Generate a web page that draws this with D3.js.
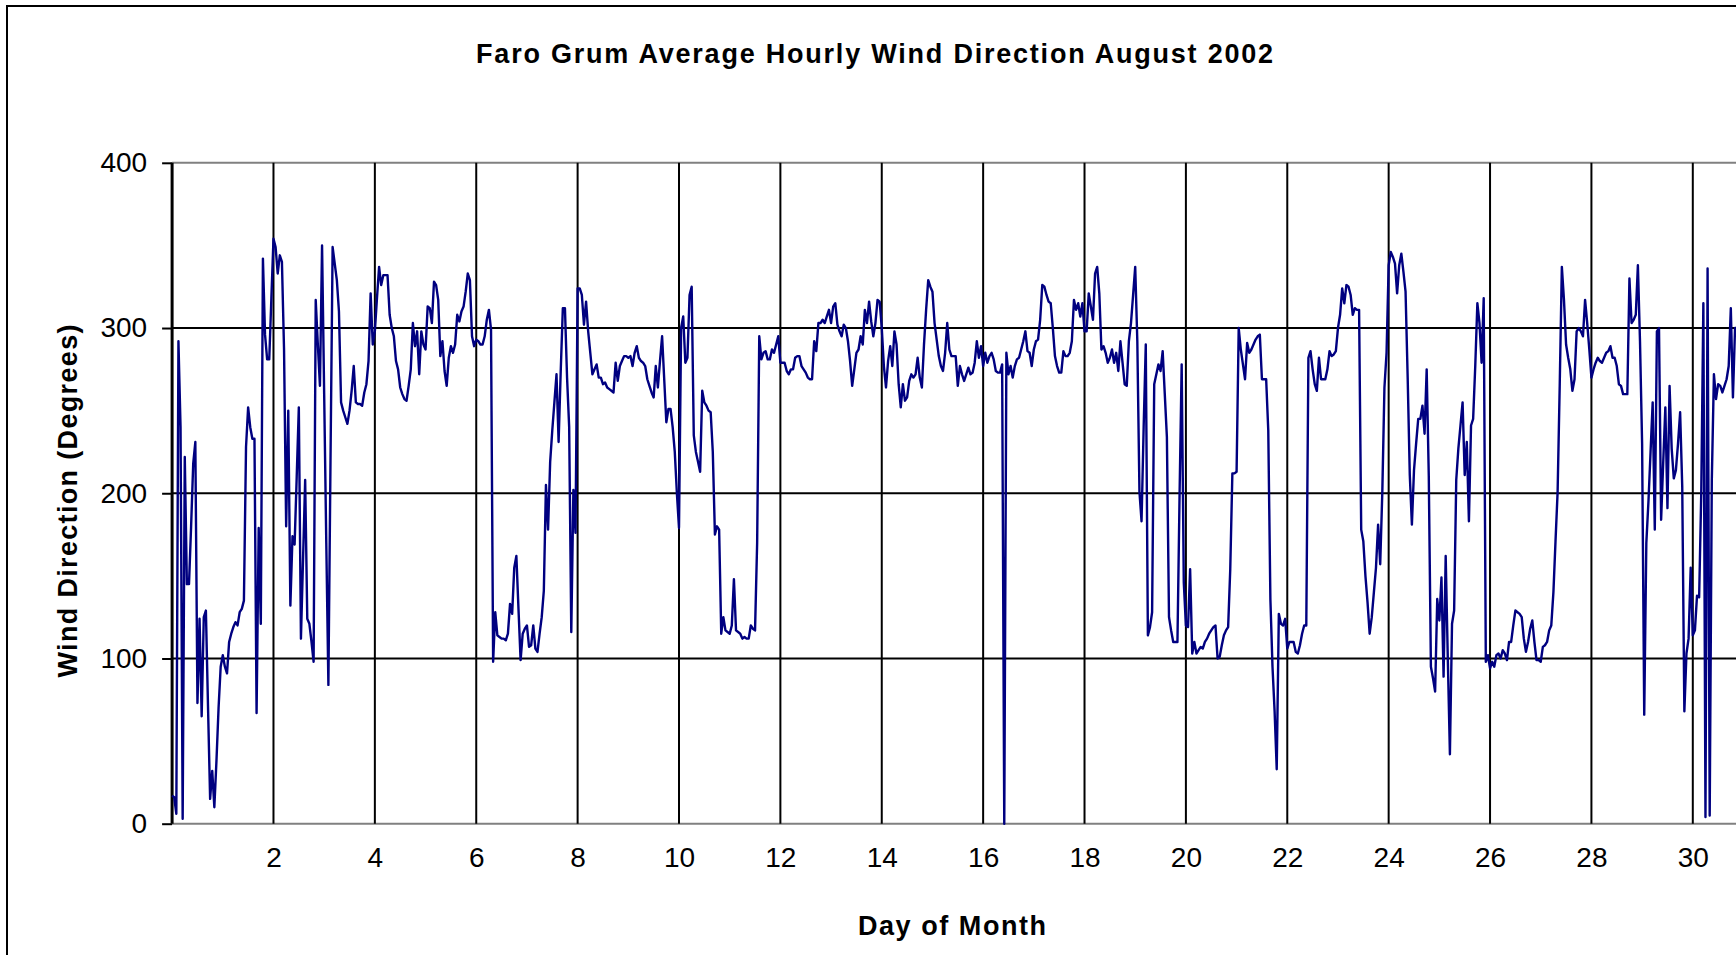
<!DOCTYPE html>
<html lang="en">
<head>
<meta charset="UTF-8">
<title>Faro Grum Average Hourly Wind Direction August 2002</title>
<script src="https://d3js.org/d3.v7.min.js"></script>
<style>
  body { margin: 0; background: #fff; overflow: hidden; }
  svg { display: block; }
  .tick text { font-family: Arial, "Liberation Sans", sans-serif; font-size: 28px; fill: #000; }
  .ttl { font-family: Arial, "Liberation Sans", sans-serif; font-weight: bold; font-size: 27px; fill: #000; }
</style>
</head>
<body>
<script>
// hourly average wind direction (degrees), one array per day, hour 0..23
const day00 = [17, 16, 6, 292, 240, 3, 222, 145, 145, 180, 218, 231, 73, 124, 65, 125, 129, 71, 15, 32, 10, 38, 70, 95];
const day01 = [102, 95, 91, 110, 115, 119, 122, 120, 128, 130, 135, 228, 252, 240, 233, 233, 67, 179, 121, 342, 296, 281, 281, 318];
const day02 = [354, 349, 333, 344, 340, 287, 180, 250, 132, 174, 169, 210, 252, 112, 160, 208, 124, 121, 110, 98, 317, 290, 265, 350];
const day03 = [260, 170, 84, 220, 349, 339, 329, 310, 255, 250, 246, 242, 250, 262, 277, 255, 254, 254, 253, 261, 266, 280, 321, 290];
const day04 = [298, 318, 337, 326, 332, 332, 332, 308, 300, 295, 280, 275, 264, 260, 257, 256, 265, 275, 303, 289, 298, 272, 298, 290];
const day05 = [287, 313, 312, 303, 328, 326, 317, 283, 292, 274, 265, 282, 289, 285, 290, 308, 304, 310, 313, 322, 333, 329, 295, 289];
const day06 = [293, 292, 290, 290, 295, 305, 311, 299, 98, 128, 114, 113, 112, 112, 111, 115, 133, 127, 155, 162, 130, 99, 115, 118];
const day07 = [120, 107, 108, 120, 106, 104, 115, 125, 141, 205, 178, 219, 238, 255, 272, 231, 274, 312, 312, 270, 240, 116, 202, 176];
const day08 = [324, 324, 320, 302, 316, 298, 285, 272, 275, 278, 270, 270, 266, 267, 264, 263, 262, 261, 279, 268, 277, 280, 283, 283];
const day09 = [282, 283, 277, 285, 289, 282, 280, 279, 277, 269, 265, 261, 258, 277, 264, 280, 295, 269, 243, 251, 251, 240, 225, 200];
const day10 = [179, 300, 307, 279, 282, 320, 325, 235, 225, 219, 213, 262, 255, 253, 250, 249, 225, 175, 180, 178, 115, 125, 117, 116];
const day11 = [115, 120, 148, 117, 116, 115, 112, 113, 112, 112, 120, 118, 117, 170, 295, 281, 285, 286, 281, 281, 287, 285, 290, 295];
const day12 = [279, 279, 279, 274, 272, 275, 275, 282, 283, 283, 277, 275, 273, 270, 269, 269, 292, 286, 303, 303, 305, 303, 307, 311];
const day13 = [303, 313, 315, 302, 298, 295, 302, 300, 292, 280, 265, 275, 285, 287, 295, 290, 311, 303, 316, 304, 295, 303, 317, 316];
const day14 = [300, 277, 264, 280, 289, 277, 298, 290, 266, 252, 266, 256, 258, 268, 272, 270, 272, 282, 270, 264, 290, 311, 329, 325];
const day15 = [322, 303, 293, 283, 277, 274, 285, 303, 287, 283, 283, 283, 265, 277, 272, 268, 272, 276, 272, 273, 279, 292, 282, 289];
const day16 = [277, 285, 279, 283, 285, 281, 274, 273, 273, 278, 0, 285, 272, 277, 270, 277, 281, 282, 287, 292, 298, 286, 285, 277];
const day17 = [287, 292, 293, 305, 326, 325, 320, 316, 315, 300, 283, 277, 273, 273, 286, 283, 283, 285, 292, 317, 311, 315, 307, 315];
const day18 = [298, 298, 321, 313, 305, 333, 337, 321, 287, 289, 285, 279, 282, 287, 279, 285, 274, 292, 279, 266, 265, 292, 303, 320];
const day19 = [337, 292, 201, 183, 240, 290, 114, 119, 128, 266, 272, 278, 274, 286, 260, 234, 125, 117, 110, 110, 110, 199, 278, 146];
const day20 = [120, 119, 154, 103, 110, 103, 105, 107, 106, 110, 112, 115, 117, 119, 120, 100, 101, 108, 114, 117, 119, 154, 212, 212];
const day21 = [213, 300, 287, 278, 269, 291, 285, 287, 290, 293, 295, 296, 269, 269, 269, 238, 136, 95, 68, 33, 127, 121, 120, 124];
const day22 = [106, 110, 110, 110, 104, 103, 108, 115, 120, 120, 282, 286, 275, 266, 262, 282, 269, 269, 269, 275, 286, 283, 284, 286];
const day23 = [300, 308, 324, 315, 326, 325, 320, 308, 312, 311, 311, 178, 171, 150, 134, 115, 125, 140, 155, 181, 157, 201, 264, 285];
const day24 = [338, 346, 343, 339, 321, 338, 345, 334, 322, 270, 211, 181, 214, 230, 245, 245, 253, 236, 275, 210, 95, 88, 80, 136];
const day25 = [123, 149, 89, 162, 100, 42, 121, 129, 208, 227, 241, 255, 211, 231, 183, 241, 245, 277, 315, 303, 279, 318, 98, 102];
const day26 = [94, 98, 95, 102, 103, 100, 105, 103, 99, 110, 110, 120, 129, 128, 127, 125, 112, 104, 110, 118, 123, 110, 99, 99];
const day27 = [98, 107, 108, 110, 117, 120, 140, 171, 201, 266, 337, 317, 290, 282, 275, 262, 269, 298, 300, 298, 295, 317, 303, 287];
const day28 = [270, 275, 279, 282, 280, 279, 282, 285, 286, 289, 282, 282, 277, 266, 265, 260, 260, 260, 330, 303, 305, 308, 338, 292];
const day29 = [230, 66, 170, 195, 225, 255, 178, 298, 300, 184, 219, 252, 191, 265, 227, 209, 214, 230, 249, 204, 68, 103, 112, 155];
const day30 = [114, 117, 138, 137, 200, 315, 4, 336, 5, 208, 272, 257, 266, 265, 261, 265, 269, 277, 312, 258, 300, 300, 301, 303];

const xTicks = [2, 4, 6, 8, 10, 12, 14, 16, 18, 20, 22, 24, 26, 28, 30];
const yTicks = [0, 100, 200, 300, 400];

const hourly = [].concat(day00, day01, day02, day03, day04, day05, day06, day07, day08, day09,
    day10, day11, day12, day13, day14, day15, day16, day17, day18, day19, day20,
    day21, day22, day23, day24, day25, day26, day27, day28, day29, day30);

const width = 1736, height = 955;
const plotLeft = 172.1, plotTop = 162.8, plotBottom = 823.7;
const dayPx = 50.69;

const svg = d3.select("body").append("svg")
    .attr("width", width)
    .attr("height", height);

// chart area frame (runs off the right and bottom of the picture)
svg.append("rect")
    .attr("x", 7).attr("y", 6)
    .attr("width", 1900).attr("height", 1100)
    .attr("fill", "none").attr("stroke", "#000").attr("stroke-width", 2);

const x = d3.scaleLinear().domain([0, 32]).range([plotLeft, plotLeft + 32 * dayPx]);
const y = d3.scaleLinear().domain([0, 400]).range([plotBottom, plotTop]);

// gridlines
svg.append("g").selectAll("line")
    .data(yTicks)
    .join("line")
    .attr("x1", plotLeft).attr("x2", width + 10)
    .attr("y1", d => y(d)).attr("y2", d => y(d))
    .attr("stroke", d => (d === 0 || d === 400) ? "#808080" : "#000")
    .attr("stroke-width", 2);

svg.append("g").selectAll("line")
    .data(xTicks)
    .join("line")
    .attr("x1", d => x(d)).attr("x2", d => x(d))
    .attr("y1", plotTop).attr("y2", plotBottom)
    .attr("stroke", "#000")
    .attr("stroke-width", 2);

// y axis
const yAxis = svg.append("g")
    .attr("transform", `translate(${plotLeft},0)`)
    .call(d3.axisLeft(y).tickValues(yTicks).tickSize(10).tickPadding(15));
yAxis.select(".domain").remove();
yAxis.selectAll(".tick line").attr("stroke", "#000").attr("stroke-width", 2);
yAxis.selectAll(".tick text").attr("font-family", null).attr("font-size", null);

svg.append("line")
    .attr("x1", plotLeft).attr("x2", plotLeft)
    .attr("y1", plotTop).attr("y2", plotBottom)
    .attr("stroke", "#000").attr("stroke-width", 3);

// x axis labels
const xAxis = svg.append("g")
    .attr("transform", `translate(0,${plotBottom})`)
    .call(d3.axisBottom(x).tickValues(xTicks).tickSize(0).tickPadding(23));
xAxis.select(".domain").remove();
xAxis.selectAll(".tick text").attr("font-family", null).attr("font-size", null);

// data line
const line = d3.line()
    .x((d, i) => x(i / 24))
    .y(d => y(d));

svg.append("path")
    .datum(hourly)
    .attr("d", line)
    .attr("fill", "none")
    .attr("stroke", "#000080")
    .attr("stroke-width", 2.4)
    .attr("stroke-linejoin", "round");

// titles
svg.append("text").attr("class", "ttl")
    .attr("x", 874.6).attr("y", 63)
    .attr("text-anchor", "middle")
    .attr("textLength", 797).attr("lengthAdjust", "spacing")
    .text("Faro Grum Average Hourly Wind Direction August 2002");

svg.append("text").attr("class", "ttl")
    .attr("transform", "translate(77,501) rotate(-90)")
    .attr("text-anchor", "middle")
    .attr("textLength", 353).attr("lengthAdjust", "spacing")
    .text("Wind Direction (Degrees)");

svg.append("text").attr("class", "ttl")
    .attr("x", 952).attr("y", 935)
    .attr("text-anchor", "middle")
    .attr("textLength", 188).attr("lengthAdjust", "spacing")
    .text("Day of Month");
</script>
</body>
</html>
